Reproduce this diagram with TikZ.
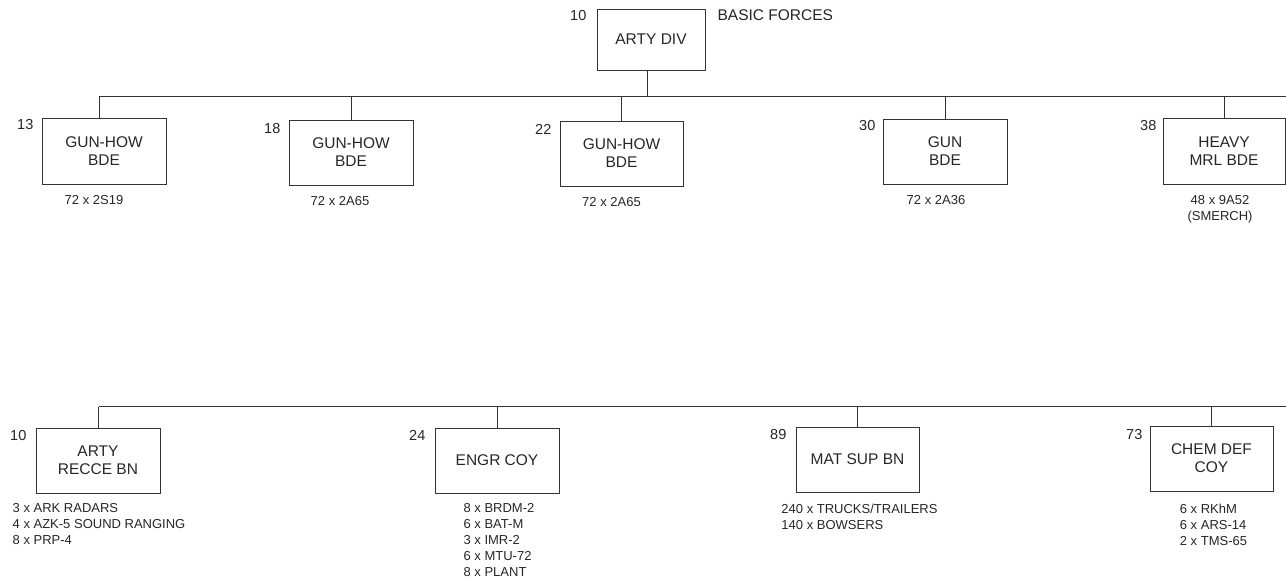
\documentclass[tikz,border=0pt]{standalone}
\usepackage{fontspec}
\setmainfont{Liberation Sans}
\usetikzlibrary{positioning}

\begin{document}
\begin{tikzpicture}[x=1pt,y=-1pt,
  unit/.style={draw=black!80,line width=0.9pt,minimum width=124pt,minimum height=65pt,align=center,inner sep=0pt,text=black!85,font=\fontsize{15.5}{18}\selectfont},
  num/.style={anchor=north east,inner sep=0pt,text=black!85,font=\fontsize{14.5}{17}\selectfont},
  kit/.style={align=left,inner sep=0pt,anchor=north,text=black!85,font=\fontsize{13}{16}\selectfont},
  link/.style={draw=black!80,line width=0.9pt}]
  \useasboundingbox (0,0) rectangle (1286,582);
  % basic forces
  \node[unit,minimum width=108pt,minimum height=61pt] (div) at (651,39.5) {ARTY DIV};
  \node[num,left=10pt of div.north west,anchor=north east,yshift=-2pt] {10};
  \node[num,right=12pt of div.north east,anchor=north west,yshift=-1pt,font=\fontsize{15.5}{18}\selectfont] (basic) {BASIC FORCES};
  \coordinate (topL) at (99,96.5);
  \coordinate (topR) at (1286,96.5);
  \draw[link] (topL) -- (topR);
  \draw[link] ([xshift=-4pt]div.south) -- ([xshift=-4pt]div.south |- topL);

  \node[unit,minimum height=66pt] (g1) at (104,151) {GUN-HOW\\BDE};
  \node[unit] (g2) at (351,152.5) {GUN-HOW\\BDE};
  \node[unit,minimum width=123pt] (g3) at (621.5,153.5) {GUN-HOW\\BDE};
  \node[unit] (g4) at (945,151.5) {GUN\\BDE};
  \node[unit,minimum width=122pt,minimum height=66pt] (g5) at (1224,151) {HEAVY\\MRL BDE};
  \draw[link] (topL) -- (g1.north -| topL);
  \foreach \n in {g2,g3,g4,g5}
    \draw[link] (\n.north) -- (\n.north |- topL);
  \node[num,left=8pt of g1.north west,anchor=north east,yshift=-2pt] {13};
  \node[num,left=8pt of g2.north west,anchor=north east,yshift=-4pt] {18};
  \node[num,left=8pt of g3.north west,anchor=north east,yshift=-4pt] {22};
  \node[num,left=7pt of g4.north west,anchor=north east,yshift=-2pt] {30};
  \node[num,left=6pt of g5.north west,anchor=north east,yshift=-3pt] {38};
  \node[kit,below=11pt of g1,xshift=-10pt] {72 x 2S19};
  \node[kit,below=11pt of g2,xshift=-11pt] {72 x 2A65};
  \node[kit,below=11pt of g3,xshift=-10pt] {72 x 2A65};
  \node[kit,below=11pt of g4,xshift=-9pt] {72 x 2A36};
  \node[kit,below=11pt of g5,xshift=-4pt,align=center] {48 x 9A52\\(SMERCH)};

  % support
  \coordinate (botL) at (99,406.5);
  \coordinate (botR) at (1286,406.5);
  \draw[link] (botL) -- (botR);
  \node[unit] (s1) at (98,460.5) {ARTY\\RECCE BN};
  \node[unit] (s2) at (497,460.5) {ENGR COY};
  \node[unit,minimum width=123pt] (s3) at (857.5,459.5) {MAT SUP BN};
  \node[unit,minimum width=123pt] (s4) at (1211.5,458.5) {CHEM DEF\\COY};
  \foreach \n in {s1,s2,s3,s4}
    \draw[link] (\n.north) -- (\n.north |- botL);
  \node[num,left=9pt of s1.north west,anchor=north east,yshift=-3pt] {10};
  \node[num,left=9pt of s2.north west,anchor=north east,yshift=-3pt] {24};
  \node[num,left=9pt of s3.north west,anchor=north east,yshift=-3pt] {89};
  \node[num,left=7pt of s4.north west,anchor=north east,yshift=-4pt] {73};
  \node[kit,below=10pt of s1,xshift=1pt] {3 x ARK RADARS\\4 x AZK-5 SOUND RANGING\\8 x PRP-4};
  \node[kit,below=10pt of s2,xshift=2pt] {8 x BRDM-2\\6 x BAT-M\\3 x IMR-2\\6 x MTU-72\\8 x PLANT};
  \node[kit,below=11pt of s3,xshift=2pt] {240 x TRUCKS/TRAILERS\\140 x BOWSERS};
  \node[kit,below=12pt of s4,xshift=2pt] {6 x RKhM\\6 x ARS-14\\2 x TMS-65};
\end{tikzpicture}
\end{document}
